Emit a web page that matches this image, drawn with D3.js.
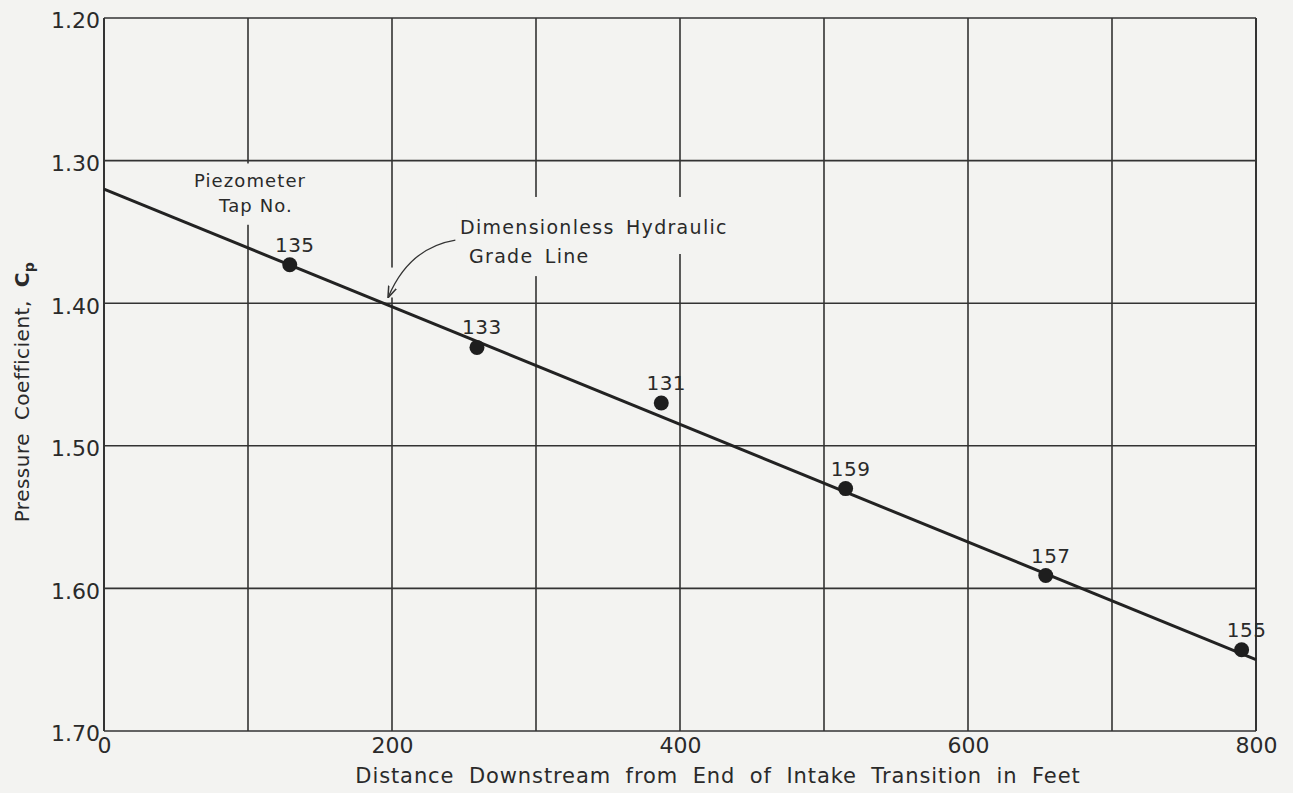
<!DOCTYPE html>
<meta charset="utf-8">
<html>
<head>
<script src="https://cdn.jsdelivr.net/npm/d3@7"></script>
<style>
  body { margin: 0; background: #f3f3f1; }
  text { font-family: "DejaVu Sans", sans-serif; fill: #2a2a2a; }
</style>
</head>
<body>
<script>
  // tap numbers and readings
  var taps = ["135", "133", "131", "159", "157", "155"];
  var distance = [129, 259, 387, 515, 654, 790];      // feet
  var cp = [1.373, 1.431, 1.470, 1.530, 1.591, 1.643];

  // dimensionless hydraulic grade line (end points)
  var lineX = [0, 800];
  var lineY = [1.320, 1.650];

  var xTicks = [0, 200, 400, 600, 800];
  var yTicks = [1.2, 1.3, 1.4, 1.5, 1.6, 1.7];
  var xGrid = [0, 100, 200, 300, 400, 500, 600, 700, 800];

  var W = 1293, H = 793;
  var svg = d3.select("body").append("svg").attr("width", W).attr("height", H);

  var x = d3.scaleLinear().domain([0, 800]).range([104, 1256]);
  var y = d3.scaleLinear().domain([1.2, 1.7]).range([18, 731]);

  var ink = "#333";

  // grid
  svg.append("g").selectAll("line").data(yTicks).enter().append("line")
    .attr("x1", x(0)).attr("x2", x(800))
    .attr("y1", function (d) { return y(d); }).attr("y2", function (d) { return y(d); })
    .style("stroke", ink).style("stroke-width", 1.6);

  svg.append("g").selectAll("line").data(xGrid).enter().append("line")
    .attr("x1", function (d) { return x(d); }).attr("x2", function (d) { return x(d); })
    .attr("y1", y(1.2)).attr("y2", y(1.7))
    .style("stroke", ink).style("stroke-width", function (d) { return (d === 0 || d === 800) ? 2 : 1.6; });

  // paper showing through where the lettering breaks the grid
  var knock = svg.append("g").style("fill", "#f3f3f1");
  knock.append("rect").attr("x", x(55)).attr("y", y(1.302)).attr("width", x(140) - x(55)).attr("height", y(1.345) - y(1.302));
  knock.append("rect").attr("x", x(245)).attr("y", y(1.3255)).attr("width", x(440) - x(245)).attr("height", y(1.3655) - y(1.3255));
  knock.append("rect").attr("x", x(250)).attr("y", y(1.36)).attr("width", x(345) - x(250)).attr("height", y(1.381) - y(1.36));
  knock.append("rect").attr("x", x(194)).attr("y", y(1.375)).attr("width", x(206) - x(194)).attr("height", y(1.396) - y(1.375));

  // axes
  var yAxis = svg.append("g").attr("transform", "translate(" + x(0) + ",0)")
    .call(d3.axisLeft(y).tickValues(yTicks).tickFormat(d3.format(".2f")).tickSize(0).tickPadding(4));
  yAxis.select(".domain").remove();
  yAxis.selectAll("text").style("font-size", "22px").style("font-family", "DejaVu Sans")
    .style("fill", "#2a2a2a").attr("dy", "0.45em");

  var xAxis = svg.append("g").attr("transform", "translate(0," + y(1.7) + ")")
    .call(d3.axisBottom(x).tickValues(xTicks).tickSize(0).tickPadding(6));
  xAxis.select(".domain").remove();
  xAxis.selectAll("text").style("font-size", "22px").style("font-family", "DejaVu Sans")
    .style("fill", "#2a2a2a");

  // axis titles
  svg.append("text")
    .attr("x", 718).attr("y", 783)
    .attr("text-anchor", "middle")
    .style("font-size", "21px").style("letter-spacing", "0.9px").style("word-spacing", "7px")
    .text("Distance Downstream from End of Intake Transition in Feet");

  var yt = svg.append("text")
    .attr("transform", "translate(29,392) rotate(-90)")
    .attr("text-anchor", "middle")
    .style("font-size", "20px").style("letter-spacing", "0.5px").style("word-spacing", "6px");
  yt.append("tspan").text("Pressure Coefficient, ");
  yt.append("tspan").style("font-weight", "bold").text("C");
  yt.append("tspan").attr("dy", 5).style("font-size", "14px").style("font-weight", "bold").text("p");

  // grade line
  svg.append("line")
    .attr("x1", x(lineX[0])).attr("y1", y(lineY[0]))
    .attr("x2", x(lineX[1])).attr("y2", y(lineY[1]))
    .style("stroke", "#222").style("stroke-width", 3);

  // points
  svg.append("g").selectAll("circle").data(taps).enter().append("circle")
    .attr("cx", function (d, i) { return x(distance[i]); })
    .attr("cy", function (d, i) { return y(cp[i]); })
    .attr("r", 7.5)
    .style("fill", "#1e1e1e");

  svg.append("g").selectAll("text").data(taps).enter().append("text")
    .attr("x", function (d, i) { return x(distance[i]) + 5; })
    .attr("y", function (d, i) { return y(cp[i]) - 13; })
    .attr("text-anchor", "middle")
    .style("font-size", "20px").style("letter-spacing", "0.5px")
    .text(function (d) { return d; });

  // labels
  var piezo = svg.append("text").attr("text-anchor", "middle").style("font-size", "18px").style("letter-spacing", "1.1px");
  piezo.append("tspan").attr("x", 250).attr("y", 187).text("Piezometer");
  piezo.append("tspan").attr("x", 256).attr("y", 212).text("Tap No.");

  var dhgl = svg.append("text").style("font-size", "19px").style("letter-spacing", "1.3px").style("word-spacing", "4px");
  dhgl.append("tspan").attr("x", 460).attr("y", 234).text("Dimensionless Hydraulic");
  dhgl.append("tspan").attr("x", 469).attr("y", 263).text("Grade Line");

  // leader to the grade line
  svg.append("defs").append("marker")
    .attr("id", "arr").attr("viewBox", "0 0 10 10").attr("refX", 9).attr("refY", 5)
    .attr("markerWidth", 9).attr("markerHeight", 9).attr("orient", "auto")
    .append("path").attr("d", "M0,1.5 L10,5 L0,8.5").style("fill", "none").style("stroke", "#333").style("stroke-width", 1.3);

  svg.append("path")
    .attr("d", "M" + x(244) + "," + y(1.3557) + " Q" + x(212) + "," + y(1.361) + " " + x(197.5) + "," + y(1.3955))
    .style("fill", "none").style("stroke", "#333").style("stroke-width", 1.3)
    .attr("marker-end", "url(#arr)");
</script>
</body>
</html>
